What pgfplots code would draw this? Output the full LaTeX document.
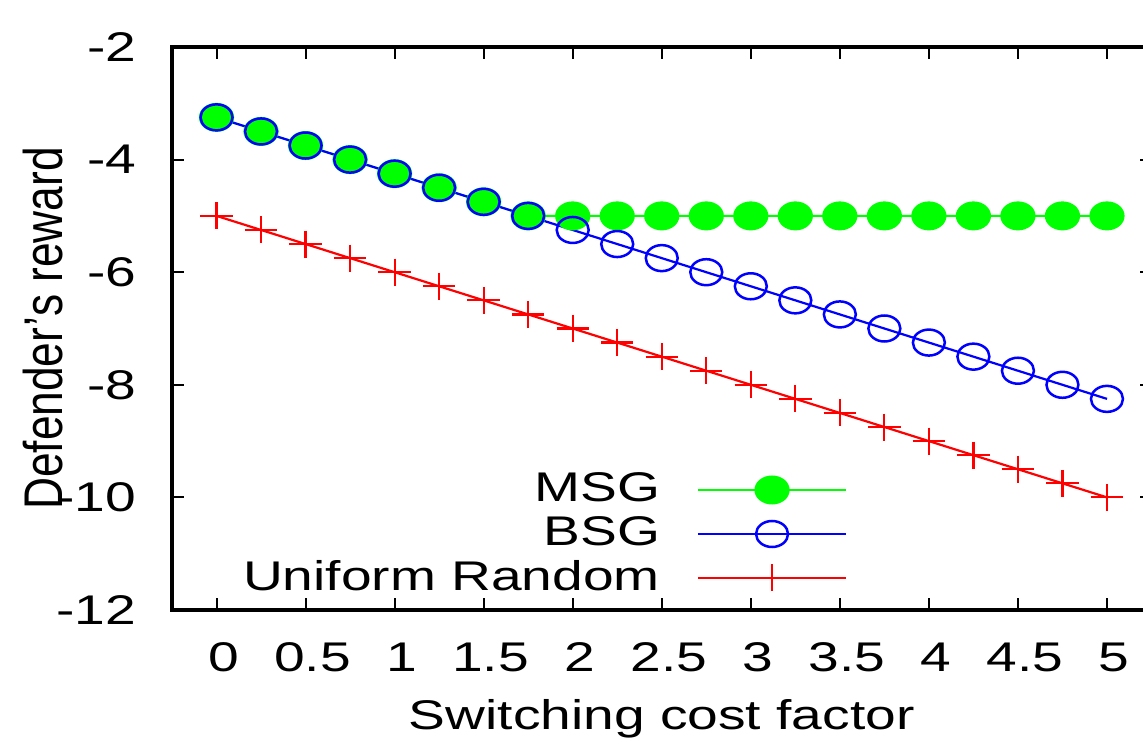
\documentclass[border=0pt]{standalone}
\usepackage{pgfplots}
\pgfplotsset{compat=1.18}
\usepackage{fontspec}
\setmainfont{Liberation Sans}
\usepackage{graphicx}

\definecolor{msg}{RGB}{0,255,0}
\definecolor{bsg}{RGB}{0,0,255}
\definecolor{unif}{RGB}{255,0,0}

% gnuplot output was stretched sideways, so text is widened too
\newcommand{\wide}[1]{\scalebox{1.33}[1]{#1}}
\newcommand{\gfont}{\fontsize{11.8}{13}\selectfont}

\begin{document}
\begin{tikzpicture}
\begin{axis}[
  name=ax,
  scale only axis,
  width=97.95mm, height=56.3mm,
  xmin=-0.25, xmax=5.25, ymin=-12, ymax=-2,
  xtick={0,0.5,1,1.5,2,2.5,3,3.5,4,4.5,5},
  xticklabels={\wide{0},\wide{0.5},\wide{1},\wide{1.5},\wide{2},\wide{2.5},\wide{3},\wide{3.5},\wide{4},\wide{4.5},\wide{5}},
  ytick={-12,-10,-8,-6,-4,-2},
  yticklabels={\wide{-12},\wide{-10},\wide{-8},\wide{-6},\wide{-4},\wide{-2}},
  tick align=inside,
  major tick length=1.2mm,
  tick style={black, line width=0.2mm},
  axis line style={line width=0.45mm},
  ticklabel style={font=\gfont, inner sep=0pt},
  yticklabel style={anchor=east, xshift=-3.5mm},
  xticklabel style={anchor=north, yshift=-3.2mm, xshift=0.7mm},
  xlabel={\wide{Switching cost factor}},
  xlabel style={font=\gfont, at={(axis description cs:0.5,0)}, anchor=base, yshift=-12mm, inner sep=0pt},
  ylabel={\scalebox{1}[1.23]{Defender’s reward}},
  ylabel style={font=\fontsize{12.6}{14}\selectfont, at={(axis description cs:0,0.5)}, anchor=center, yshift=12.9mm, inner sep=0pt},
  legend plot pos=right,
  legend cell align=right,
  legend image code/.code={\draw[mark repeat=2,mark phase=2,#1] plot coordinates {(0mm,0mm) (7.4mm,0mm) (14.8mm,0mm)};},
  legend style={draw=none, fill=none, at={(0.690,0.135)}, anchor=east, inner sep=0pt,
    column sep=3.7mm, row sep=0pt,
    nodes={inner sep=0pt, minimum height=4.4mm, font=\gfont}},
]
\addplot[color=msg, line width=0.2mm, mark=*, mark size=1.35mm,
  mark options={xscale=1.23, fill=msg, draw=none}] coordinates {
(0,-3.25)(0.25,-3.5)(0.5,-3.75)(0.75,-4)(1,-4.25)(1.25,-4.5)(1.5,-4.75)(1.75,-5)
(2,-5)(2.25,-5)(2.5,-5)(2.75,-5)(3,-5)(3.25,-5)(3.5,-5)(3.75,-5)(4,-5)
(4.25,-5)(4.5,-5)(4.75,-5)(5,-5)};
\addlegendentry{\wide{MSG}}
\addplot[color=bsg, line width=0.22mm, mark=o, mark size=1.3mm,
  mark options={xscale=1.23, line width=0.25mm}] coordinates {
(0,-3.25)(0.25,-3.5)(0.5,-3.75)(0.75,-4)(1,-4.25)(1.25,-4.5)(1.5,-4.75)(1.75,-5)
(2,-5.25)(2.25,-5.5)(2.5,-5.75)(2.75,-6)(3,-6.25)(3.25,-6.5)(3.5,-6.75)(3.75,-7)
(4,-7.25)(4.25,-7.5)(4.5,-7.75)(4.75,-8)(5,-8.25)};
\addlegendentry{\wide{BSG}}
\addplot[color=unif, line width=0.22mm, mark=+, mark size=1.35mm,
  mark options={xscale=1.2, line width=0.22mm}] coordinates {
(0,-5)(0.25,-5.25)(0.5,-5.5)(0.75,-5.75)(1,-6)(1.25,-6.25)(1.5,-6.5)(1.75,-6.75)
(2,-7)(2.25,-7.25)(2.5,-7.5)(2.75,-7.75)(3,-8)(3.25,-8.25)(3.5,-8.5)(3.75,-8.75)
(4,-9)(4.25,-9.25)(4.5,-9.5)(4.75,-9.75)(5,-10)};
\addlegendentry{\wide{Uniform Random}}
\end{axis}
\pgfresetboundingbox
\path[use as bounding box] (-17.2mm,-13.8mm) rectangle (97.1mm,61mm);
\end{tikzpicture}
\end{document}
